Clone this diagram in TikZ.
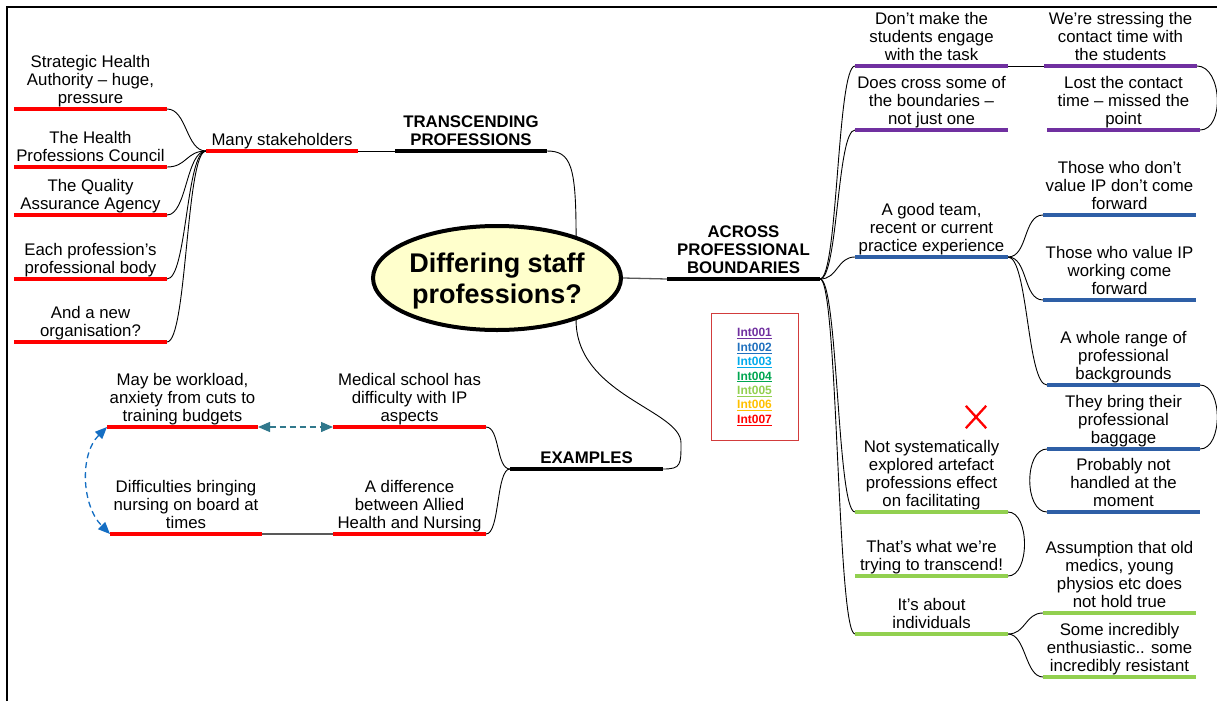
\documentclass[tikz,border=0pt]{standalone}
\usepackage{fontspec}
\setmainfont{Liberation Sans}
\usetikzlibrary{shapes.geometric,shapes.misc,arrows.meta,backgrounds}

\definecolor{mmred}{RGB}{255,0,0}
\definecolor{mmpurple}{RGB}{112,48,160}
\definecolor{mmblue}{RGB}{46,95,166}
\definecolor{mmgreen}{RGB}{146,208,80}
\definecolor{ellfill}{RGB}{255,255,204}
\definecolor{legred}{RGB}{210,60,60}
\definecolor{tealdash}{RGB}{49,120,140}
\definecolor{bluedash}{RGB}{20,110,195}
\definecolor{iA}{RGB}{112,48,160}
\definecolor{iB}{RGB}{31,112,190}
\definecolor{iC}{RGB}{0,170,235}
\definecolor{iD}{RGB}{0,166,80}
\definecolor{iE}{RGB}{146,208,80}
\definecolor{iF}{RGB}{255,192,0}
\definecolor{iG}{RGB}{255,0,0}

\tikzset{
  bar/.style={line width=4.5pt},
  lbl/.style={font=\fontsize{16.8}{18}\selectfont, align=center, inner sep=0pt, anchor=south},
  hd/.style={font=\fontsize{16.8}{18}\selectfont\bfseries},
  plain/.style={},
  conn/.style={draw=black, line width=0.9pt},
  gline/.style={draw=black!65, line width=1.3pt},
  tealarrow/.style={draw=tealdash, line width=1.3pt, dash pattern=on 6pt off 4pt,
    {Triangle[length=12pt,width=10pt]}-{Triangle[length=12pt,width=10pt]}},
  bluearrow/.style={draw=bluedash, line width=1.3pt, dash pattern=on 6pt off 4pt,
    {Triangle[length=12pt,width=10pt]}-{Triangle[length=12pt,width=10pt]}},
}

% one topic: a coloured underline bar with its text standing on it
% #1 name, #2 left x, #3 right x, #4 bar y, #5 bar colour, #6 text style, #7 text
\newcommand\mmtopic[7]{%
  \coordinate (#1-l) at (#2,#4);
  \coordinate (#1-r) at (#3,#4);
  \draw[bar,#5] (#1-l) -- (#1-r);
  \node[lbl,#6] (#1) at ({(#2+#3)/2},#4-0.3) {#7\strut};
}

\begin{document}
\begin{tikzpicture}[x=1pt,y=-1pt]
\useasboundingbox (0,0) rectangle (1217,701);

% frame edges
\draw[line width=2pt] (7,701) -- (7,7) -- (1217,7);

% central topic
\node[ellipse, draw, line width=4pt, fill=ellfill, minimum width=248pt, minimum height=104pt,
  inner sep=0pt] (ell) at (497,278) {};
\node[font=\fontsize{27}{31}\selectfont\bfseries, align=center, inner sep=0pt]
  (elltext) at (497,281.5) {Differing staff\\professions?};

% main branches
\mmtopic{tp}{395}{547}{151}{black}{hd}{TRANSCENDING\\PROFESSIONS}
\mmtopic{apb}{667}{820}{279}{black}{hd}{ACROSS\\PROFESSIONAL\\BOUNDARIES}
\mmtopic{ex}{510}{663}{469}{black}{hd}{EXAMPLES}

% stakeholders
\mmtopic{ms}{206}{358}{151}{mmred}{plain}{Many stakeholders}
\mmtopic{sha}{14}{167}{109}{mmred}{plain}{Strategic Health\\Authority – huge,\\pressure}
\mmtopic{hpc}{14}{167}{167}{mmred}{plain}{The Health\\Professions Council}
\mmtopic{qaa}{14}{167}{215}{mmred}{plain}{The Quality\\Assurance Agency}
\mmtopic{epb}{14}{167}{279}{mmred}{plain}{Each profession’s\\professional body}
\mmtopic{nor}{14}{167}{342}{mmred}{plain}{And a new\\organisation?}

% examples
\mmtopic{mw}{107}{258}{427}{mmred}{plain}{May be workload,\\anxiety from cuts to\\training budgets}
\mmtopic{msch}{333}{486}{427}{mmred}{plain}{Medical school has\\difficulty with IP\\aspects}
\mmtopic{db}{110}{262}{534}{mmred}{plain}{Difficulties bringing\\nursing on board at\\times}
\mmtopic{ad}{333}{486}{534}{mmred}{plain}{A difference\\between Allied\\Health and Nursing}

% across professional boundaries
\mmtopic{dm}{855}{1008}{66}{mmpurple}{plain}{Don’t make the\\students engage\\with the task}
\mmtopic{ws}{1044}{1197}{66}{mmpurple}{plain}{We’re stressing the\\contact time with\\the students}
\mmtopic{dc}{855}{1008}{130}{mmpurple}{plain}{Does cross some of\\the boundaries –\\not just one}
\mmtopic{lc}{1047}{1200}{130}{mmpurple}{plain}{Lost the contact\\time – missed the\\point}
\mmtopic{gt}{855}{1008}{257}{mmblue}{plain}{A good team,\\recent or current\\practice experience}
\mmtopic{td}{1043}{1196}{215}{mmblue}{plain}{Those who don’t\\value IP don’t come\\forward}
\mmtopic{tv}{1043}{1196}{300}{mmblue}{plain}{Those who value IP\\working come\\forward}
\mmtopic{wr}{1047}{1200}{385}{mmblue}{plain}{A whole range of\\professional\\backgrounds}
\mmtopic{tb}{1047}{1200}{449}{mmblue}{plain}{They bring their\\professional\\baggage}
\mmtopic{pn}{1047}{1200}{512}{mmblue}{plain}{Probably not\\handled at the\\moment}
\mmtopic{ns}{855}{1008}{512}{mmgreen}{plain}{Not systematically\\explored artefact\\professions effect\\on facilitating}
\mmtopic{tw}{855}{1008}{576}{mmgreen}{plain}{That’s what we’re\\trying to transcend!}
\mmtopic{ai}{855}{1008}{634}{mmgreen}{plain}{It’s about\\individuals}
\mmtopic{as}{1043}{1196}{613}{mmgreen}{plain}{Assumption that old\\medics, young\\physios etc does\\not hold true}
\mmtopic{si}{1043}{1196}{677}{mmgreen}{plain}{Some incredibly\\enthusiastic.. some\\incredibly resistant}

% red cross mark
\node[cross out, draw=mmred, line width=2.3pt, minimum width=18pt, minimum height=20pt, inner sep=0pt]
  (rx) at (976,417) {};

% interview key
\node[draw=legred, line width=1pt, minimum width=87pt, minimum height=127pt, inner sep=0pt]
  (legend) at (754.5,377) {};
\node[font=\fontsize{12}{14.4}\selectfont\bfseries, align=center, inner sep=0pt] (legtext) at (754.5,377)
  {\textcolor{iA}{\underline{Int001}}\\\textcolor{iB}{\underline{Int002}}\\\textcolor{iC}{\underline{Int003}}\\
   \textcolor{iD}{\underline{Int004}}\\\textcolor{iE}{\underline{Int005}}\\\textcolor{iF}{\underline{Int006}}\\
   \textcolor{iG}{\underline{Int007}}};

\coordinate (exturn) at (681,443);

\begin{pgfonlayer}{background}
  % centre to main branches
  \draw[conn] (tp-r) .. controls +(24,0) and +(0,-70) .. (ell.28);
  \draw[conn] (ell.-28) .. controls +(0,75) and +(0,-33) .. (exturn)
              .. controls +(0,22) and +(18,0) .. (ex-r);
  \draw[gline] (ell.east) -- (apb-l);

  % stakeholders
  \draw[conn] (ms-r) -- (tp-l);
  \foreach \n in {sha,hpc,qaa,epb,nor}
    \draw[conn] (\n-r) .. controls +(20,0) and +(-20,0) .. (ms-l);

  % examples
  \draw[conn] (ex-l) .. controls +(-14,0) and +(14,0) .. (msch-r);
  \draw[conn] (ex-l) .. controls +(-14,0) and +(14,0) .. (ad-r);
  \draw[gline] (ad-l) -- (db-r);

  % across professional boundaries
  \foreach \n in {dm,dc,gt,ns,ai}
    \draw[conn] (apb-r) .. controls +(18,0) and +(-18,0) .. (\n-l);
  \draw[conn] (dm-r) -- (ws-l);
  \draw[conn] (ws-r) .. controls +(25,0) and +(25,0) .. (lc-r);
  \foreach \n in {td,tv,wr}
    \draw[conn] (gt-r) .. controls +(20,0) and +(-20,0) .. (\n-l);
  \draw[conn] (wr-r) .. controls +(23,0) and +(23,0) .. (tb-r);
  \draw[conn] (tb-l) .. controls +(-23,0) and +(-23,0) .. (pn-l);
  \draw[conn] (ns-r) .. controls +(22,0) and +(22,0) .. (tw-r);
  \foreach \n in {as,si}
    \draw[conn] (ai-r) .. controls +(18,0) and +(-18,0) .. (\n-l);
\end{pgfonlayer}

% cross links between examples
\draw[tealarrow] (mw-r) -- (msch-l);
\draw[bluearrow] (mw-l) .. controls +(-28,28) and +(-28,-28) .. (db-l);

\end{tikzpicture}
\end{document}
